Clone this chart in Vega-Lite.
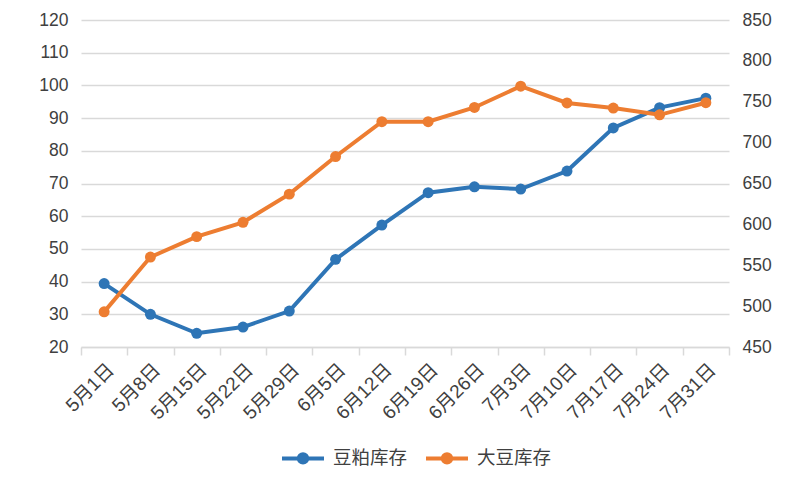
{
  "$schema": "https://vega.github.io/schema/vega-lite/v6.json",
  "width": 648,
  "height": 327,
  "autosize": "none",
  "padding": {"left": 81, "top": 20, "right": 77, "bottom": 134},
  "background": "white",
  "data": {
    "values": [
      {"date": "5月1日", "series": "豆粕库存", "value": 39.4},
      {"date": "5月8日", "series": "豆粕库存", "value": 30.0},
      {"date": "5月15日", "series": "豆粕库存", "value": 24.2},
      {"date": "5月22日", "series": "豆粕库存", "value": 26.1},
      {"date": "5月29日", "series": "豆粕库存", "value": 31.0},
      {"date": "6月5日", "series": "豆粕库存", "value": 46.8},
      {"date": "6月12日", "series": "豆粕库存", "value": 57.3},
      {"date": "6月19日", "series": "豆粕库存", "value": 67.2},
      {"date": "6月26日", "series": "豆粕库存", "value": 69.0},
      {"date": "7月3日", "series": "豆粕库存", "value": 68.3},
      {"date": "7月10日", "series": "豆粕库存", "value": 73.8},
      {"date": "7月17日", "series": "豆粕库存", "value": 87.0},
      {"date": "7月24日", "series": "豆粕库存", "value": 93.2},
      {"date": "7月31日", "series": "豆粕库存", "value": 96.1},
      {"date": "5月1日", "series": "大豆库存", "value": 493},
      {"date": "5月8日", "series": "大豆库存", "value": 560},
      {"date": "5月15日", "series": "大豆库存", "value": 585},
      {"date": "5月22日", "series": "大豆库存", "value": 602.5},
      {"date": "5月29日", "series": "大豆库存", "value": 637},
      {"date": "6月5日", "series": "大豆库存", "value": 683},
      {"date": "6月12日", "series": "大豆库存", "value": 725.6},
      {"date": "6月19日", "series": "大豆库存", "value": 725.6},
      {"date": "6月26日", "series": "大豆库存", "value": 743},
      {"date": "7月3日", "series": "大豆库存", "value": 769},
      {"date": "7月10日", "series": "大豆库存", "value": 748.5},
      {"date": "7月17日", "series": "大豆库存", "value": 742.3},
      {"date": "7月24日", "series": "大豆库存", "value": 734},
      {"date": "7月31日", "series": "大豆库存", "value": 748.8}
    ]
  },
  "encoding": {
    "x": {
      "field": "date",
      "type": "ordinal",
      "sort": null,
      "scale": {"type": "band", "paddingInner": 0, "paddingOuter": 0},
      "axis": {
        "title": null,
        "labelAngle": -45,
        "labelFontSize": 19,
        "domain": true,
        "domainColor": "#d9d9d9",
        "domainWidth": 1.5,
        "ticks": true,
        "tickColor": "#d9d9d9",
        "tickWidth": 1.5,
        "tickSize": 8,
        "tickBand": "extent",
        "labelPadding": 5,
        "grid": false
      }
    },
    "color": {
      "field": "series",
      "type": "nominal",
      "sort": ["豆粕库存", "大豆库存"],
      "scale": {"domain": ["豆粕库存", "大豆库存"], "range": ["#2e75b6", "#ed7d31"]},
      "legend": {
        "title": null,
        "orient": "none",
        "legendX": 199,
        "legendY": 415,
        "direction": "horizontal",
        "labelFontSize": 18.5,
        "labelColor": "#404040",
        "labelFont": "Liberation Sans, Noto Sans CJK SC",
        "symbolType": "M-1,0H1M-0.2,0A0.2,0.2,0,1,0,0.2,0A0.2,0.2,0,1,0,-0.2,0Z",
        "symbolSize": 1764,
        "symbolStrokeWidth": 4,
        "labelOffset": 7,
        "columnPadding": 10,
        "encode": {
          "symbols": {"update": {"fill": {"scale": "color", "field": "value"}}}
        }
      }
    }
  },
  "layer": [
    {
      "transform": [{"filter": "datum.series === '豆粕库存'"}],
      "mark": {"type": "line", "strokeWidth": 4, "point": {"filled": true, "size": 120, "opacity": 1}},
      "encoding": {
        "y": {
          "field": "value",
          "type": "quantitative",
          "scale": {"domain": [20, 120], "nice": false, "zero": false},
          "axis": {
            "orient": "left",
            "title": null,
            "values": [20, 30, 40, 50, 60, 70, 80, 90, 100, 110, 120],
            "grid": true,
            "labelPadding": 13
          }
        }
      }
    },
    {
      "transform": [{"filter": "datum.series === '大豆库存'"}],
      "mark": {"type": "line", "strokeWidth": 4, "point": {"filled": true, "size": 120, "opacity": 1}},
      "encoding": {
        "y": {
          "field": "value",
          "type": "quantitative",
          "scale": {"domain": [450, 850], "nice": false, "zero": false},
          "axis": {
            "orient": "right",
            "title": null,
            "values": [450, 500, 550, 600, 650, 700, 750, 800, 850],
            "grid": false,
            "labelPadding": 13
          }
        }
      }
    }
  ],
  "resolve": {"scale": {"y": "independent"}},
  "config": {
    "view": {"stroke": null},
    "axis": {
      "labelFont": "Liberation Sans, Noto Sans CJK SC",
      "labelFontSize": 17.5,
      "labelColor": "#404040",
      "domain": false,
      "ticks": false,
      "gridColor": "#d9d9d9",
      "gridWidth": 1.5
    }
  }
}
